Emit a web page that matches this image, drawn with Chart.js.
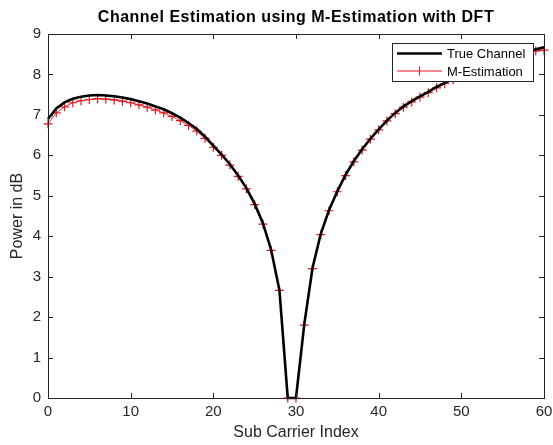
<!DOCTYPE html>
<html lang="en">
  <head>
    <meta charset="UTF-8" />
    <title>Channel Estimation using M-Estimation with DFT</title>
    <script src="https://cdn.jsdelivr.net/npm/chart.js"></script>
    <style>
      html, body { margin: 0; padding: 0; background: #fff; }
      #wrap { width: 553px; height: 445px; }
    </style>
  </head>
  <body>
    <div id="wrap"><canvas id="chart" width="553" height="445"></canvas></div>

    <script>
      const subCarrier = [
        0, 1, 2, 3, 4, 5, 6, 7, 8, 9, 10, 11, 12, 13, 14, 15, 16, 17, 18, 19, 20,
        21, 22, 23, 24, 25, 26, 27, 28, 29, 30, 31, 32, 33, 34, 35, 36, 37, 38, 39, 40,
        41, 42, 43, 44, 45, 46, 47, 48, 49, 50, 51, 52, 53, 54, 55, 56, 57, 58, 59, 60
      ];

      const trueChannel = [
        6.9, 7.16, 7.31, 7.4, 7.45, 7.48, 7.49, 7.48, 7.46, 7.43, 7.39,
        7.34, 7.28, 7.21, 7.14, 7.04, 6.93, 6.8, 6.65, 6.46, 6.24,
        6.02, 5.78, 5.5, 5.19, 4.8, 4.32, 3.66, 2.66, 0.0, 0.0,
        1.82, 3.22, 4.06, 4.65, 5.11, 5.52, 5.86, 6.15, 6.41, 6.64,
        6.86, 7.05, 7.21, 7.34, 7.46, 7.57, 7.69, 7.79, 7.89, 7.98,
        8.07, 8.15, 8.23, 8.3, 8.37, 8.44, 8.5, 8.56, 8.62, 8.67
      ];

      const mEstimation = [
        6.78, 7.05, 7.2, 7.3, 7.35, 7.38, 7.4, 7.39, 7.37, 7.34, 7.3,
        7.25, 7.19, 7.12, 7.05, 6.96, 6.86, 6.74, 6.6, 6.42, 6.2,
        6.0, 5.76, 5.48, 5.17, 4.78, 4.3, 3.65, 2.66, 0.0, 0.0,
        1.8, 3.2, 4.04, 4.63, 5.1, 5.5, 5.84, 6.13, 6.4, 6.63,
        6.85, 7.03, 7.19, 7.32, 7.44, 7.55, 7.67, 7.77, 7.87, 7.96,
        8.05, 8.13, 8.21, 8.28, 8.35, 8.42, 8.48, 8.54, 8.58, 8.6
      ];

      const xTicks = [0, 10, 20, 30, 40, 50, 60];
      const yTicks = [0, 1, 2, 3, 4, 5, 6, 7, 8, 9];

      const FONT = "'Liberation Sans', Arial, Helvetica, sans-serif";
      const AXIS_COLOR = "#262626";
      const RED = "#e2161e";

      // box, inward ticks, title and legend drawn MATLAB style
      const matlabAxes = {
        id: "matlabAxes",
        afterDatasetsDraw(chart) {
          const { ctx, chartArea: a, scales } = chart;
          ctx.save();
          ctx.strokeStyle = AXIS_COLOR;
          ctx.lineWidth = 1;
          ctx.strokeRect(a.left + 0.5, a.top + 0.5, a.right - a.left, a.bottom - a.top);

          const len = 5;
          ctx.beginPath();
          xTicks.forEach((v) => {
            const px = Math.round(scales.x.getPixelForValue(v)) + 0.5;
            ctx.moveTo(px, a.bottom);
            ctx.lineTo(px, a.bottom - len);
            ctx.moveTo(px, a.top);
            ctx.lineTo(px, a.top + len);
          });
          yTicks.forEach((v) => {
            const py = Math.round(scales.y.getPixelForValue(v)) + 0.5;
            ctx.moveTo(a.left, py);
            ctx.lineTo(a.left + len, py);
            ctx.moveTo(a.right, py);
            ctx.lineTo(a.right - len, py);
          });
          ctx.stroke();

          // title
          ctx.fillStyle = "#000";
          ctx.font = "bold 16px " + FONT;
          ctx.letterSpacing = "0.5px";
          ctx.textAlign = "center";
          ctx.textBaseline = "middle";
          ctx.fillText(
            "Channel Estimation using M-Estimation with DFT",
            (a.left + a.right) / 2,
            a.top - 16
          );
          ctx.letterSpacing = "0px";

          // legend
          const lw = 141, lh = 38;
          const lx = a.right - 11 - lw, ly = a.top + 9;
          ctx.fillStyle = "#fff";
          ctx.fillRect(lx, ly, lw, lh);
          ctx.strokeStyle = "#262626";
          ctx.lineWidth = 1;
          ctx.strokeRect(lx + 0.5, ly + 0.5, lw, lh);

          const y1 = ly + 10.5, y2 = ly + 28;
          ctx.strokeStyle = "#000";
          ctx.lineWidth = 2.5;
          ctx.beginPath();
          ctx.moveTo(lx + 5, y1);
          ctx.lineTo(lx + 50, y1);
          ctx.stroke();

          ctx.strokeStyle = RED;
          ctx.lineWidth = 1;
          ctx.beginPath();
          ctx.moveTo(lx + 5, y2);
          ctx.lineTo(lx + 50, y2);
          ctx.moveTo(lx + 27.5, y2 - 4.5);
          ctx.lineTo(lx + 27.5, y2 + 4.5);
          ctx.stroke();

          ctx.fillStyle = "#000";
          ctx.font = "13px " + FONT;
          ctx.textAlign = "left";
          ctx.fillText("True Channel", lx + 55, y1 + 1);
          ctx.fillText("M-Estimation", lx + 55, y2 + 1);
          ctx.restore();
        },
      };

      function createChart() {
        const ctx = document.getElementById("chart").getContext("2d");

        new Chart(ctx, {
          type: "line",
          data: {
            labels: subCarrier,
            datasets: [
              {
                label: "True Channel",
                data: subCarrier.map((x, i) => ({ x: x, y: trueChannel[i] })),
                borderColor: "#000",
                borderWidth: 2.6,
                pointRadius: 0,
                tension: 0,
                clip: false,
              },
              {
                label: "M-Estimation",
                data: subCarrier.map((x, i) => ({ x: x, y: mEstimation[i] })),
                borderColor: RED,
                borderWidth: 0.9,
                pointStyle: "cross",
                pointRadius: 4.5,
                pointBorderColor: RED,
                pointBorderWidth: 1.2,
                tension: 0,
                clip: false,
              },
            ],
          },
          options: {
            responsive: false,
            animation: false,
            layout: { padding: { left: 4, right: 9, top: 34, bottom: 3 } },
            plugins: {
              legend: { display: false },
              title: { display: false },
              tooltip: { enabled: false },
            },
            scales: {
              x: {
                type: "linear",
                min: 0,
                max: 60,
                afterBuildTicks: (scale) => {
                  scale.ticks = xTicks.map((v) => ({ value: v }));
                },
                afterFit: (scale) => {
                  scale.height = 445 - 3 - 398;
                  scale.paddingLeft = 0;
                  scale.paddingRight = 0;
                },
                grid: { display: false, drawTicks: false },
                border: { display: false },
                ticks: {
                  color: AXIS_COLOR,
                  padding: 5,
                  maxRotation: 0,
                  font: { size: 15, family: FONT },
                },
                title: {
                  display: true,
                  text: "Sub Carrier Index",
                  color: AXIS_COLOR,
                  padding: { top: 0, bottom: 0 },
                  font: { size: 16, family: FONT },
                },
              },
              y: {
                min: 0,
                max: 9,
                afterBuildTicks: (scale) => {
                  scale.ticks = yTicks.map((v) => ({ value: v }));
                },
                afterFit: (scale) => {
                  scale.width = 48 - 4;
                  scale.paddingTop = 0;
                  scale.paddingBottom = 0;
                },
                grid: { display: false, drawTicks: false },
                border: { display: false },
                ticks: {
                  color: AXIS_COLOR,
                  padding: 7,
                  font: { size: 15, family: FONT },
                },
                title: {
                  display: true,
                  text: "Power in dB",
                  color: AXIS_COLOR,
                  padding: { top: 4, bottom: 0 },
                  font: { size: 16, family: FONT },
                },
              },
            },
          },
          plugins: [matlabAxes],
        });
      }

      document.addEventListener("DOMContentLoaded", createChart);
    </script>
  </body>
</html>
